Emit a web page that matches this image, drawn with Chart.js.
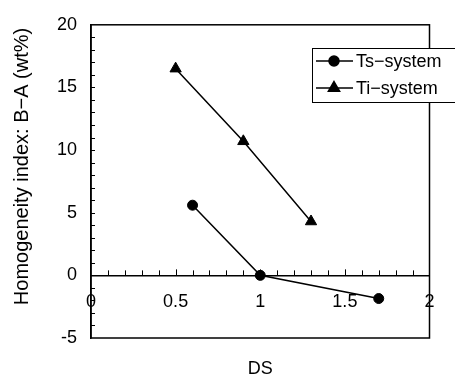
<!DOCTYPE html>
<html>
<head>
<meta charset="utf-8">
<script src="https://cdn.jsdelivr.net/npm/chart.js@4/dist/chart.umd.min.js"></script>
<style>
  html, body { margin: 0; padding: 0; background: #fff; }
  #wrap { width: 455px; height: 379px; }
</style>
</head>
<body>
<div id="wrap"><canvas id="chart" width="455" height="379"></canvas></div>
<script>
// data
const seriesNames = ["Ts\u2212system", "Ti\u2212system"];
const tsDS = [0.6, 1.0, 1.7];
const tsIndex = [5.6, 0, -1.85];
const tiDS = [0.5, 0.9, 1.3];
const tiIndex = [16.5, 10.7, 4.3];
const xTicks = [0, 0.5, 1, 1.5, 2];
const yTicks = [-5, 0, 5, 10, 15, 20];
const xTitle = "DS";
const yTitle = "Homogeneity index: B\u2212A (wt%)";

const FONT = "'Liberation Sans', Arial, sans-serif";
const toPoints = (xs, ys) => xs.map((x, i) => ({x: x, y: ys[i]}));

// frame, inward minor ticks, axis titles and the boxed legend
const decor = {
    id: "decor",
    afterDraw(chart) {
        const ctx = chart.ctx, a = chart.chartArea;
        const xs = chart.scales.x, ys = chart.scales.y;
        ctx.save();
        ctx.strokeStyle = "#000";
        ctx.lineWidth = 1.5;
        ctx.strokeRect(a.left, a.top, a.right - a.left, a.bottom - a.top);

        // minor ticks
        ctx.lineWidth = 1;
        ctx.beginPath();
        const y0 = ys.getPixelForValue(0);
        for (let v = 1; v < 20; v++) {
            const px = Math.round(xs.getPixelForValue(v / 10)) + 0.5;
            ctx.moveTo(px, y0);
            ctx.lineTo(px, y0 - (v % 5 === 0 ? 6 : 5));
        }
        for (let v = -4; v < 20; v++) {
            const py = Math.round(ys.getPixelForValue(v)) + 0.5;
            ctx.moveTo(a.left, py);
            ctx.lineTo(a.left + 4, py);
        }
        ctx.stroke();

        // titles
        ctx.fillStyle = "#000";
        ctx.textAlign = "center";
        ctx.textBaseline = "middle";
        ctx.font = "18px " + FONT;
        ctx.fillText(xTitle, (a.left + a.right) / 2, 369);
        ctx.save();
        ctx.translate(22, 166.5);
        ctx.rotate(-Math.PI / 2);
        ctx.font = "20px " + FONT;
        ctx.fillText(yTitle, 0, 0);
        ctx.restore();

        // legend
        const bx = 312, by = 48, bh = 54;
        ctx.fillStyle = "#fff";
        ctx.fillRect(bx, by, 460 - bx, bh);
        ctx.lineWidth = 1;
        ctx.strokeRect(bx + 0.5, by + 0.5, 460 - bx, bh);
        chart.data.datasets.forEach((ds, i) => {
            const ry = by + 13 + i * 27;
            ctx.strokeStyle = "#000";
            ctx.lineWidth = 1.5;
            ctx.beginPath();
            ctx.moveTo(bx + 4, ry);
            ctx.lineTo(bx + 41, ry);
            ctx.stroke();
            ctx.fillStyle = "#000";
            Chart.helpers.drawPoint(ctx, {pointStyle: ds.pointStyle, radius: ds.pointRadius, rotation: 0, borderWidth: 1}, bx + 22, ry);
            ctx.fillStyle = "#000";
            ctx.textAlign = "left";
            ctx.font = "18px " + FONT;
            ctx.fillText(ds.label, bx + 44, ry + 1);
        });
        ctx.restore();
    }
};

new Chart(document.getElementById("chart"), {
    type: "scatter",
    data: {
        datasets: [
            {
                label: seriesNames[0], data: toPoints(tsDS, tsIndex), showLine: true,
                borderColor: "#000", backgroundColor: "#000", borderWidth: 1.5,
                pointStyle: "circle", pointRadius: 5, pointBorderWidth: 1
            },
            {
                label: seriesNames[1], data: toPoints(tiDS, tiIndex), showLine: true,
                borderColor: "#000", backgroundColor: "#000", borderWidth: 1.5,
                pointStyle: "triangle", pointRadius: 6.5, pointBorderWidth: 1
            }
        ]
    },
    options: {
        responsive: false, animation: false,
        layout: { padding: { left: 0, right: 25.5, top: 19, bottom: 41 } },
        plugins: { legend: { display: false }, tooltip: { enabled: false } },
        scales: {
            x: {
                type: "linear", min: 0, max: 2, position: { y: 0 },
                afterBuildTicks: s => { s.ticks = xTicks.map(v => ({value: v})); },
                ticks: { color: "#000", font: { size: 18, family: FONT }, padding: 16, maxRotation: 0,
                         callback: v => String(v) },
                grid: { display: false, drawTicks: false },
                border: { display: true, color: "#000", width: 1.5 }
            },
            y: {
                type: "linear", min: -5, max: 20,
                afterBuildTicks: s => { s.ticks = yTicks.map(v => ({value: v})); },
                afterFit: s => { s.width = 91; },
                ticks: { color: "#000", font: { size: 18, family: FONT }, padding: 14 },
                grid: { display: false, drawTicks: false },
                border: { display: true, color: "#000", width: 1.5 }
            }
        }
    },
    plugins: [decor]
});
</script>
</body>
</html>
